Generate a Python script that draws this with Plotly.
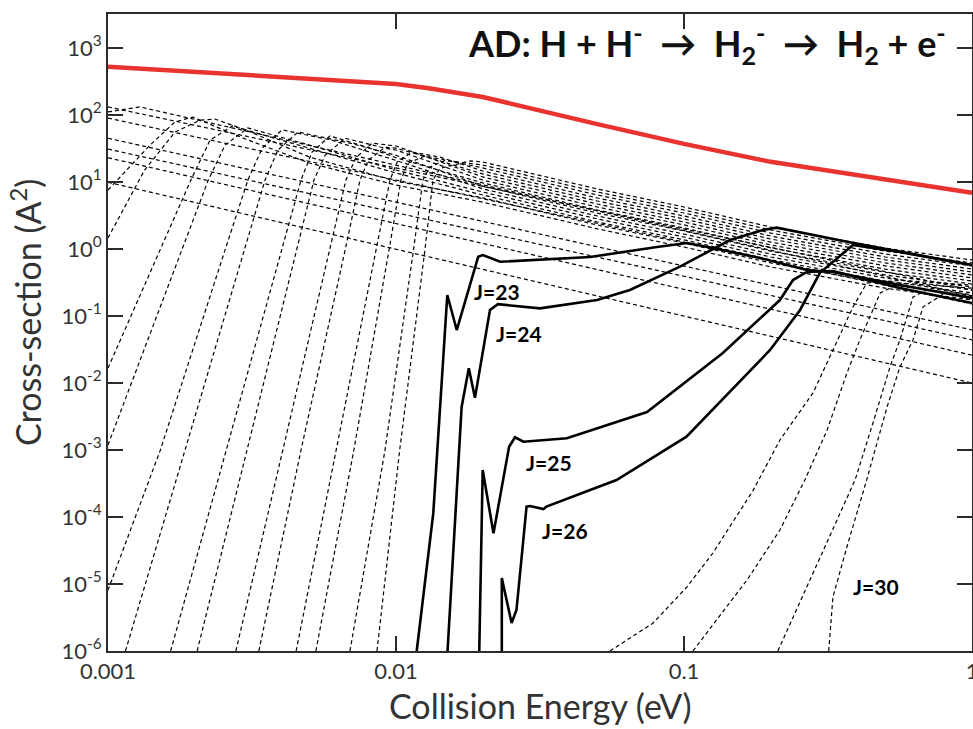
import plotly.graph_objects as go

# ---------------- data ----------------
# total AD cross-section (red)
red_e = [0.001, 0.002, 0.005, 0.01, 0.013, 0.02, 0.05, 0.1, 0.2, 0.5, 1.0]
red_s = [526, 444, 353, 290, 250, 186, 73, 37, 20, 10.7, 6.9]

# highlighted partial waves (solid)
j23_e = [0.0118, 0.01347, 0.01507, 0.01625, 0.0193, 0.0200, 0.0230, 0.0472, 0.0805, 0.1024, 0.126, 0.1837, 0.267, 0.329, 0.562, 1.0]
j23_s = [1e-6, 1.13e-4, 0.206, 0.0618, 0.767, 0.813, 0.645, 0.760, 1.07, 1.23, 1.035, 0.734, 0.487, 0.454, 0.290, 0.186]
j24_e = [0.0151, 0.0169, 0.0179, 0.0188, 0.0212, 0.0226, 0.0316, 0.0499, 0.0649, 0.0968, 0.1445, 0.188, 0.210, 0.368, 1.0]
j24_s = [1e-6, 4.4e-3, 1.66e-2, 6.0e-3, 0.123, 0.150, 0.130, 0.173, 0.244, 0.545, 1.36, 1.92, 2.08, 1.28, 0.577]
j25_e = [0.01946, 0.0200, 0.0218, 0.0247, 0.0259, 0.0277, 0.0392, 0.0472, 0.0744, 0.1364, 0.2153, 0.239, 0.267, 0.329, 0.562, 1.0]
j25_s = [1e-6, 5.02e-4, 5.72e-5, 1.12e-3, 1.55e-3, 1.33e-3, 1.50e-3, 1.94e-3, 3.69e-3, 0.0281, 0.173, 0.344, 0.454, 0.470, 0.262, 0.156]
j26_e = [0.0233, 0.0233, 0.0252, 0.0262, 0.0284, 0.0292, 0.0325, 0.0333, 0.0472, 0.0583, 0.102, 0.199, 0.253, 0.296, 0.386, 0.562, 1.0]
j26_s = [1e-6, 1.23e-5, 2.62e-6, 4.09e-6, 1.43e-4, 1.46e-4, 1.31e-4, 1.43e-4, 2.53e-4, 3.56e-4, 1.58e-3, 0.0311, 0.123, 0.438, 1.15, 0.90, 0.577]

# other partial waves (dashed)
j00_e = [0.001, 1.0]
j00_s = [9.9, 0.010]
j01_e = [0.001, 1.0]
j01_s = [23, 0.026]
j02_e = [0.001, 1.0]
j02_s = [31, 0.044]
j03_e = [0.001, 1.0]
j03_s = [45, 0.062]
j04_e = [0.001, 1.0]
j04_s = [90, 0.151]
j05_e = [0.001, 0.00129, 1.0]
j05_s = [111, 132, 0.199]
j06_e = [0.001, 1.0]
j06_s = [132, 0.244]
j07_e = [0.001, 0.0014, 0.00171, 0.00197, 0.003, 0.005, 0.01, 0.02, 0.05, 0.1, 0.2, 0.5, 1.0]
j07_s = [7.6, 35.6, 79, 93, 43.8, 19.2, 9.0, 5.0, 2.0, 1.07, 0.54, 0.26, 0.174]
j08_e = [0.001, 0.00134, 0.00171, 0.00209, 0.00235, 0.003, 0.005, 0.01, 0.02, 0.05, 0.1, 0.2, 0.5, 1.0]
j08_s = [1.46, 15.1, 55.8, 84, 87, 60, 23.6, 10.3, 5.8, 2.28, 1.23, 0.62, 0.30, 0.199]
j09_e = [0.001, 0.00152, 0.00194, 0.00226, 0.0027, 0.005, 0.01, 0.02, 0.05, 0.1, 0.2, 0.5, 1.0]
j09_s = [0.0167, 0.97, 10.7, 42, 68.5, 32, 13.6, 6.4, 2.53, 1.37, 0.69, 0.333, 0.221]
j10_e = [0.001, 0.0018, 0.00223, 0.00255, 0.00306, 0.005, 0.01, 0.02, 0.05, 0.1, 0.2, 0.5, 1.0]
j10_s = [0.00119, 0.97, 10.7, 35.6, 64, 35.6, 15.1, 7.1, 2.81, 1.51, 0.76, 0.37, 0.245]
j11_e = [0.001, 0.00152, 0.00255, 0.00306, 0.00343, 0.00402, 0.006, 0.01, 0.02, 0.05, 0.1, 0.2, 0.5, 1.0]
j11_s = [8.1e-6, 1e-3, 0.97, 10.7, 32, 60, 42, 21, 7.9, 3.11, 1.67, 0.84, 0.41, 0.271]
j12_e = [0.00115, 0.00185, 0.00296, 0.00351, 0.00389, 0.00457, 0.00692, 0.01, 0.02, 0.05, 0.1, 0.2, 0.5, 1.0]
j12_s = [1e-6, 1e-3, 0.97, 10.7, 30, 55.8, 38, 25, 8.7, 3.44, 1.86, 0.93, 0.45, 0.300]
j13_e = [0.00165, 0.00258, 0.00401, 0.00468, 0.00511, 0.0059, 0.00813, 0.01, 0.02, 0.05, 0.1, 0.2, 0.5, 1.0]
j13_s = [1e-6, 1e-3, 0.97, 10.7, 28, 48.6, 32, 23, 9.7, 3.82, 2.06, 1.04, 0.50, 0.333]
j14_e = [0.00204, 0.00304, 0.00453, 0.00519, 0.00567, 0.00666, 0.00916, 0.01, 0.02, 0.05, 0.1, 0.2, 0.5, 1.0]
j14_s = [1e-6, 1e-3, 0.97, 10.7, 25, 45, 32, 30, 10.7, 4.24, 2.29, 1.15, 0.56, 0.370]
j15_e = [0.00278, 0.00405, 0.0059, 0.0067, 0.00726, 0.00826, 0.01, 0.02, 0.05, 0.1, 0.2, 0.5, 1.0]
j15_s = [1e-6, 1e-3, 0.97, 10.7, 23, 38, 34.5, 11.9, 4.69, 2.53, 1.27, 0.62, 0.41]
j16_e = [0.00334, 0.00468, 0.00666, 0.0075, 0.008, 0.00916, 0.01, 0.0131, 0.02, 0.05, 0.1, 0.2, 0.5, 1.0]
j16_s = [1e-6, 1e-3, 0.97, 10.7, 21, 33, 32, 23, 13.2, 5.20, 2.81, 1.41, 0.69, 0.454]
j17_e = [0.0045, 0.00619, 0.00853, 0.00953, 0.0101, 0.01137, 0.0142, 0.02, 0.05, 0.1, 0.2, 0.5, 1.0]
j17_s = [1e-6, 1e-3, 0.97, 10.7, 19.9, 28, 23.6, 14.6, 5.77, 3.11, 1.56, 0.76, 0.504]
j18_e = [0.00527, 0.00714, 0.00946, 0.0104, 0.011, 0.0126, 0.016, 0.02, 0.05, 0.1, 0.2, 0.5, 1.0]
j18_s = [1e-6, 1e-3, 0.97, 10.7, 19, 24.5, 19.9, 16.2, 6.40, 3.45, 1.73, 0.84, 0.558]
j19_e = [0.00692, 0.00916, 0.0115, 0.0124, 0.0131, 0.0148, 0.02, 0.05, 0.1, 0.2, 0.5, 1.0]
j19_s = [1e-6, 1e-3, 0.97, 10.7, 16.7, 21, 17.9, 7.09, 3.82, 1.92, 0.93, 0.619]
j20_e = [0.00859, 0.0103, 0.0126, 0.01344, 0.0142, 0.0181, 0.02, 0.05, 0.1, 0.2, 0.5, 1.0]
j20_s = [1e-6, 1e-3, 0.97, 10.7, 16, 20.6, 19.9, 7.87, 4.24, 2.13, 1.03, 0.686]
j27_e = [0.0553, 0.078, 0.1023, 0.126, 0.1738, 0.2153, 0.2805, 0.329, 0.386, 0.431, 0.562, 1.0]
j27_s = [1e-6, 2.6e-6, 9.0e-6, 2.9e-5, 2.5e-4, 1.41e-3, 7.1e-3, 0.031, 0.136, 0.31, 0.34, 0.29]
j28_e = [0.1074, 0.1656, 0.2153, 0.263, 0.314, 0.368, 0.408, 0.48, 0.562, 1.0]
j28_s = [1e-6, 1.15e-5, 6.4e-5, 3.6e-4, 1.99e-3, 0.0141, 0.044, 0.22, 0.31, 0.26]
j29_e = [0.2118, 0.2805, 0.348, 0.393, 0.453, 0.519, 0.562, 0.624, 0.715, 1.0]
j29_s = [1e-6, 1.46e-5, 1.15e-4, 3.6e-4, 2.53e-3, 0.0173, 0.044, 0.192, 0.26, 0.206]
j30_e = [0.318, 0.329, 0.368, 0.431, 0.507, 0.562, 0.624, 0.676, 0.805, 1.0]
j30_s = [1e-6, 6.4e-6, 3.6e-5, 3.6e-4, 4.38e-3, 0.0173, 0.044, 0.136, 0.22, 0.173]

x_tickvals = [0.001, 0.01, 0.1, 1]
x_ticktext = ["0.001", "0.01", "0.1", "1"]
y_exponents = [-6, -5, -4, -3, -2, -1, 0, 1, 2, 3]

solid_labels = ["J=23", "J=24", "J=25", "J=26", "J=30"]

# ---------------- figure ----------------
FONT = "Lato, 'Open Sans', sans-serif"
fig = go.Figure()

dashed = [(j00_e, j00_s), (j01_e, j01_s), (j02_e, j02_s), (j03_e, j03_s), (j04_e, j04_s),
          (j05_e, j05_s), (j06_e, j06_s), (j07_e, j07_s), (j08_e, j08_s), (j09_e, j09_s),
          (j10_e, j10_s), (j11_e, j11_s), (j12_e, j12_s), (j13_e, j13_s), (j14_e, j14_s),
          (j15_e, j15_s), (j16_e, j16_s), (j17_e, j17_s), (j18_e, j18_s), (j19_e, j19_s),
          (j20_e, j20_s), (j27_e, j27_s), (j28_e, j28_s), (j29_e, j29_s), (j30_e, j30_s)]
for e, s in dashed:
    fig.add_trace(go.Scatter(x=e, y=s, mode="lines",
                             line=dict(color="black", width=1.2, dash="4px,3px"),
                             showlegend=False, hoverinfo="skip"))

for e, s in [(j23_e, j23_s), (j24_e, j24_s), (j25_e, j25_s), (j26_e, j26_s)]:
    fig.add_trace(go.Scatter(x=e, y=s, mode="lines",
                             line=dict(color="black", width=2.6),
                             showlegend=False, hoverinfo="skip"))

fig.add_trace(go.Scatter(x=red_e, y=red_s, mode="lines",
                         line=dict(color="#e8332f", width=4.5),
                         showlegend=False, hoverinfo="skip"))

axis_common = dict(type="log", showline=True, linecolor="#2b2b2b", linewidth=2,
                   mirror="ticks", ticks="inside", ticklen=15, tickwidth=2,
                   tickcolor="#2b2b2b", showgrid=False, zeroline=False, automargin=False,
                   tickfont=dict(family=FONT, size=22, color="#333333"))

fig.update_xaxes(range=[-3, 0], tickvals=x_tickvals, ticktext=x_ticktext,
                 ticklabeloverflow="allow", **axis_common)
fig.update_yaxes(range=[-6, 3.5075],
                 tickvals=[10.0 ** k for k in y_exponents],
                 ticktext=["10<sup>%d</sup>" % k for k in y_exponents],
                 **axis_common)

label_pos = [(0.450, 0.5636), (0.4757, 0.4992), (0.5104, 0.2967), (0.5289, 0.1884), (0.8889, 0.1005)]
annotations = []
for txt, (ax, ay) in zip(solid_labels, label_pos):
    annotations.append(dict(text="<b>%s</b>" % txt, x=ax, y=ay, xref="paper", yref="paper",
                            xanchor="center", yanchor="middle", showarrow=False,
                            font=dict(family=FONT, size=21, color="black")))

annotations.append(dict(
    text="<b>AD: H + H<sup>-</sup>  →  H<sub>2</sub><sup>-</sup>  →  H<sub>2</sub> + e<sup>-</sup></b>",
    x=0.9725, y=0.953, xref="paper", yref="paper", xanchor="right", yanchor="middle",
    showarrow=False, font=dict(family=FONT, size=36, color="#111111")))

annotations.append(dict(text="Cross-section (A<sup>2</sup>)", x=-0.095, y=0.532,
                        xref="paper", yref="paper", xanchor="center", yanchor="middle",
                        textangle=-90, showarrow=False,
                        font=dict(family=FONT, size=34, color="#333333")))
annotations.append(dict(text="Collision Energy (eV)", x=0.5, y=-0.0855,
                        xref="paper", yref="paper", xanchor="center", yanchor="middle",
                        showarrow=False, font=dict(family=FONT, size=34, color="#333333")))

fig.update_layout(width=973, height=729, margin=dict(l=108, r=1, t=14, b=78, autoexpand=False),
                  paper_bgcolor="white", plot_bgcolor="white",
                  annotations=annotations, showlegend=False)

post = ("document.documentElement.style.overflow='hidden';"
        "document.body.style.margin='0px';document.body.style.overflow='hidden';"
        "var gd=document.getElementById('{plot_id}');"
        "Plotly.relayout(gd, {width: 973, height: 729});")
fig.write_html("out.html", config={"displayModeBar": False, "responsive": False},
               post_script=post)
